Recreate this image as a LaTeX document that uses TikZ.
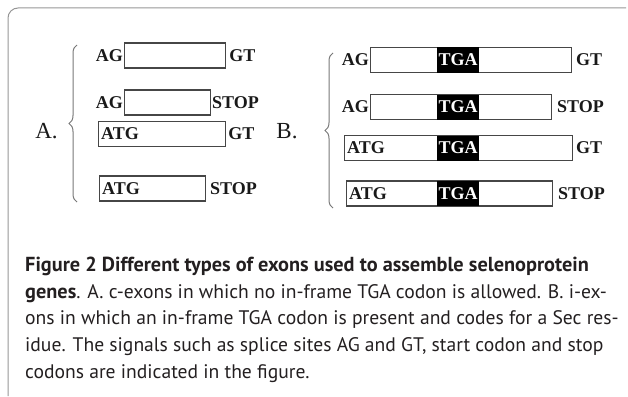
\documentclass[tikz,border=0pt]{standalone}
\usepackage{fontspec}
\usepackage{xcolor}
\usepackage{tikz}
\usetikzlibrary{shapes,positioning,decorations.pathreplacing}
\newfontfamily\labfont{Liberation Serif}
\newfontfamily\capfont{PT Sans}
\definecolor{framegray}{RGB}{150,150,150}
\definecolor{boxgray}{RGB}{70,70,70}
\definecolor{captext}{RGB}{35,31,32}
\newcommand\capbold[1]{{\fontsize{20.3}{22}\selectfont\bfseries #1}}
\tikzset{exon/.style={rectangle,draw=boxgray,line width=1.1pt,minimum height=25pt,inner sep=0pt,anchor=west},
  sig/.style={font=\labfont\bfseries\fontsize{18}{20}\selectfont,text=black!90,inner sep=1pt},
  tga/.style={fill=black,text=white,minimum width=42pt,minimum height=25pt,inner sep=0pt,font=\labfont\bfseries\fontsize{18}{20}\selectfont},
  panel/.style={font=\labfont\fontsize{23}{25}\selectfont,text=black!90},
  curly/.style={draw=framegray!80!black,line width=1pt,decorate,decoration={brace,amplitude=8pt}},
  capline/.style={anchor=base west,inner sep=0pt,text=captext,font=\capfont\fontsize{19.6}{22}\selectfont}}

\begin{document}
\begin{tikzpicture}[x=1pt,y=-1pt]
    \useasboundingbox (0,0) rectangle (628,396);
    \draw[framegray,line width=1pt,rounded corners=10pt] (8,396) -- (8,8) -- (626,8);

    % A. c-exons
    \node[panel] (la) at (46.5,131) {A.};
    \draw[curly] (77,202) -- (77,45);

    \node[exon,minimum width=101pt] (a1) at (124,55.5) {};
    \node[sig,anchor=east] (a1l) at (a1.west) {AG};
    \node[sig,anchor=west] (a1r) at ([xshift=2pt]a1.east) {GT};

    \node[exon,minimum width=86pt] (a2) at (124,102.5) {};
    \node[sig,anchor=east] (a2l) at (a2.west) {AG};
    \node[sig,anchor=west] (a2r) at (211,102.5) {STOP};

    \node[exon,minimum width=127pt] (a3) at (98,134) {};
    \node[sig,anchor=west] (a3l) at ([xshift=2pt]a3.west) {ATG};
    \node[sig,anchor=west] (a3r) at ([xshift=1pt]a3.east) {GT};

    \node[exon,minimum width=106pt] (a4) at (99,188.5) {};
    \node[sig,anchor=west] (a4l) at ([xshift=2pt]a4.west) {ATG};
    \node[sig,anchor=west] (a4r) at (209,188.5) {STOP};

    % B. i-exons
    \node[panel] (lb) at (287,131) {B.};
    \draw[curly] (333,208) -- (333,53);

    \node[exon,minimum width=201pt] (b1) at (370,60) {};
    \node[tga] (b1s) at (458,60) {TGA};
    \node[sig,anchor=east] (b1l) at (b1.west) {AG};
    \node[sig,anchor=west] (b1r) at (575,60) {GT};

    \node[exon,minimum width=181pt] (b2) at (370,107) {};
    \node[tga] (b2s) at (458,107) {TGA};
    \node[sig,anchor=east] (b2l) at (b2.west) {AG};
    \node[sig,anchor=west] (b2r) at (556,107) {STOP};

    \node[exon,minimum width=228pt] (b3) at (344,148) {};
    \node[tga] (b3s) at (458,148) {TGA};
    \node[sig,anchor=west] (b3l) at ([xshift=2pt]b3.west) {ATG};
    \node[sig,anchor=west] (b3r) at (575,148) {GT};

    \node[exon,minimum width=206pt] (b4) at (346,193.5) {};
    \node[tga] (b4s) at (458,193.5) {TGA};
    \node[sig,anchor=west] (b4l) at ([xshift=2pt]b4.west) {ATG};
    \node[sig,anchor=west] (b4r) at (557,193.5) {STOP};

    % caption
    \node[capline] (cap1) at (25,271) {\capbold{Figure 2 Different types of exons used to assemble selenoprotein}};
    \node[capline] (cap2) at (25,298) {\capbold{genes}. A. c-exons in which no in-frame TGA codon is allowed. B. i-ex-};
    \node[capline] (cap3) at (25,324.5) {ons in which an in-frame TGA codon is present and codes for a Sec res-};
    \node[capline] (cap4) at (25,351) {idue. The signals such as splice sites AG and GT, start codon and stop};
    \node[capline] (cap5) at (25,378) {codons are indicated in the figure.};
\end{tikzpicture}
\end{document}
